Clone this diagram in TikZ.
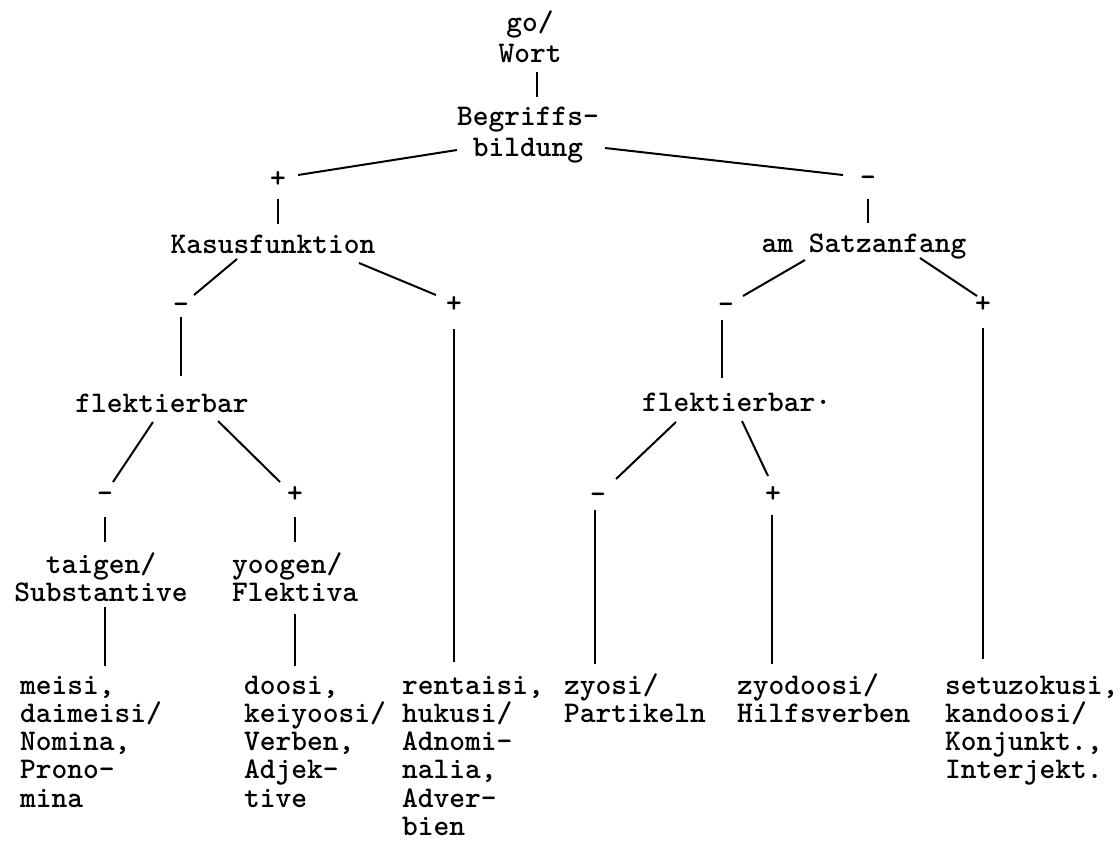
\documentclass[tikz,border=0pt]{standalone}
\usetikzlibrary{calc}
\begin{document}
\begin{tikzpicture}[x=1pt,y=-1pt,
  every node/.style={inner sep=0pt, outer sep=0pt,
    font=\ttfamily\bfseries\fontsize{30}{28.3}\selectfont},
  lbl/.style={anchor=base},
  sign/.style={anchor=base},
  % multi-line blocks are placed by the baseline of their last line
  blockL/.style={anchor=base west, align=left},
  blockC/.style={anchor=base, align=center},
  wide/.style={font=\ttfamily\bfseries\fontsize{30}{31}\selectfont},
  edge/.style={line width=2pt}]
\useasboundingbox (0,0) rectangle (1120,854);

% --- labels ---
\node[blockC,wide] (top)   at (530,62)  {go/\\Wort};
\node[blockC,wide] (bb)    at (528,156) {Begriffs-\\bildung};
\node[sign] (plusA)  at (278,187) {+};
\node[sign] (minusA) at (868,186) {-};
\node[lbl]  (kasus)  at (273,253) {Kasusfunktion};
\node[lbl]  (satz)   at (864,252) {am Satzanfang};
\node[sign] (minusB) at (181,313) {-};
\node[sign] (plusB)  at (454,312) {+};
\node[sign] (minusC) at (726,313) {-};
\node[sign] (plusC)  at (983,312) {+};
\node[lbl]  (flekA)  at (162,412) {flektierbar};
\node[anchor=base west] (flekB) at (642,411) {flektierbar·};
\node[sign] (minusD) at (105,502) {-};
\node[sign] (plusD)  at (295,502) {+};
\node[sign] (minusE) at (598,503) {-};
\node[sign] (plusE)  at (773,502) {+};
\node[blockC] (taigen) at (101,601.3) {taigen/\\Substantive};
\node[blockL] (yoogen) at (232,601.3) {yoogen/\\Flektiva};
\node[blockL] (meisi)  at (20,807.2)  {meisi,\\daimeisi/\\Nomina,\\Prono-\\mina};
\node[blockL] (doosi)  at (244,807.2) {doosi,\\keiyoosi/\\Verben,\\Adjek-\\tive};
\node[blockL] (rentai) at (402,835.5) {rentaisi,\\hukusi/\\Adnomi-\\nalia,\\Adver-\\bien};
\node[blockL] (zyosi)  at (564,722.3) {zyosi/\\Partikeln};
\node[blockL] (zyodo)  at (737,722.3) {zyodoosi/\\Hilfsverben};
\node[blockL] (setu)   at (945,778.9) {setuzokusi,\\kandoosi/\\Konjunkt.,\\Interjekt.};

% --- connectors ---
\draw[edge] ([shift={(7,10)}]top.base)    -- ([shift={(9,-59)}]bb.base);
\draw[edge] ([shift={(-71,-6)}]bb.base)   -- ([shift={(20,-12)}]plusA.base);
\draw[edge] ([shift={(77,-8)}]bb.base)    -- ([shift={(-25,-11)}]minusA.base);
\draw[edge] ([shift={(0,12)}]plusA.base)  -- ([shift={(5,-29)}]kasus.base);
\draw[edge] ([shift={(0,13)}]minusA.base) -- ([shift={(4,-29)}]satz.base);
\draw[edge] ([shift={(-36,6)}]kasus.base) -- ([shift={(13,-18)}]minusB.base);
\draw[edge] ([shift={(86,10)}]kasus.base) -- ([shift={(-18,-17)}]plusB.base);
\draw[edge] ([shift={(0,4)}]minusB.base)  -- ([shift={(19,-36)}]flekA.base);
\draw[edge] ([shift={(0,17)}]plusB.base)  -- ([shift={(52,-173.5)}]rentai.base west);
\draw[edge] ([shift={(-59,8)}]satz.base)  -- ([shift={(17,-17)}]minusC.base);
\draw[edge] ([shift={(56,6)}]satz.base)   -- ([shift={(-6,-16)}]plusC.base);
\draw[edge] ([shift={(-4,7)}]minusC.base) -- ([shift={(80,-33)}]flekB.base west);
\draw[edge] ([shift={(0,16)}]plusC.base)  -- ([shift={(38,-119.9)}]setu.base west);
\draw[edge] ([shift={(-9,10)}]flekA.base) -- ([shift={(8,-20)}]minusD.base);
\draw[edge] ([shift={(56,9)}]flekA.base)  -- ([shift={(-15,-20)}]plusD.base);
\draw[edge] ([shift={(0,15)}]minusD.base) -- ([shift={(4,-59.3)}]taigen.base);
\draw[edge] ([shift={(0,15)}]plusD.base)  -- ([shift={(63,-59.3)}]yoogen.base west);
\draw[edge] ([shift={(4,5.7)}]taigen.base) -- ([shift={(85,-141.2)}]meisi.base west);
\draw[edge] ([shift={(63,12.7)}]yoogen.base west) -- ([shift={(51,-141.2)}]doosi.base west);
\draw[edge] ([shift={(34,11)}]flekB.base west)  -- ([shift={(18,-24)}]minusE.base);
\draw[edge] ([shift={(100,10)}]flekB.base west) -- ([shift={(-5,-26)}]plusE.base);
\draw[edge] ([shift={(-3,7)}]minusE.base) -- ([shift={(31,-58.3)}]zyosi.base west);
\draw[edge] ([shift={(-1,13)}]plusE.base) -- ([shift={(35,-58.3)}]zyodo.base west);
\end{tikzpicture}
\end{document}
